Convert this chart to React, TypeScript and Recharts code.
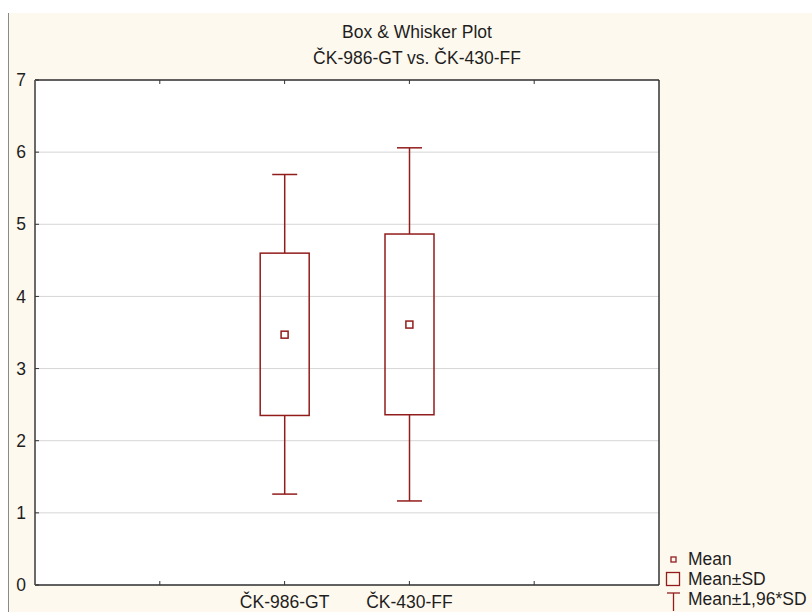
import {
  Bar,
  CartesianGrid,
  ComposedChart,
  Scatter,
  XAxis,
  YAxis,
} from "recharts";

const categories = ["ČK-986-GT", "ČK-430-FF"];
const positions = [2, 3];
const means = [3.47, 3.61];
const sdLow = [2.35, 2.36];
const sdHigh = [4.6, 4.865];
const ciLow = [1.26, 1.165];
const ciHigh = [5.69, 6.06];

const xTicks = [1, 2, 3, 4];
const yTicks = [0, 1, 2, 3, 4, 5, 6, 7];
const legendItems = ["Mean", "Mean±SD", "Mean±1,96*SD"];

const RED = "#921c1c";
const FONT = '"Liberation Sans", Arial, sans-serif';
const TICK = { fill: "#1e1e1e", fontSize: 17.5, fontFamily: FONT };

const data = categories.map((name, i) => ({
  name,
  pos: positions[i],
  mean: means[i],
  base: ciLow[i],
  lowWhisker: sdLow[i] - ciLow[i],
  box: sdHigh[i] - sdLow[i],
  highWhisker: ciHigh[i] - sdHigh[i],
}));

const CAP = 25;

function LowWhisker(p: any) {
  const cx = p.x + p.width / 2;
  const bottom = p.y + p.height;
  return (
    <g stroke={RED} strokeWidth={1.5}>
      <line x1={cx} y1={p.y} x2={cx} y2={bottom} />
      <line x1={cx - CAP / 2} y1={bottom} x2={cx + CAP / 2} y2={bottom} />
    </g>
  );
}

function HighWhisker(p: any) {
  const cx = p.x + p.width / 2;
  return (
    <g stroke={RED} strokeWidth={1.5}>
      <line x1={cx} y1={p.y} x2={cx} y2={p.y + p.height} />
      <line x1={cx - CAP / 2} y1={p.y} x2={cx + CAP / 2} y2={p.y} />
    </g>
  );
}

function BoxShape(p: any) {
  return (
    <rect
      x={p.x}
      y={p.y}
      width={p.width}
      height={p.height}
      fill="none"
      stroke={RED}
      strokeWidth={1.5}
    />
  );
}

function MeanMark(p: any) {
  return (
    <rect
      x={p.cx - 3.5}
      y={p.cy - 3.5}
      width={7}
      height={7}
      fill="#fff"
      stroke={RED}
      strokeWidth={1.5}
    />
  );
}

function LegendBox() {
  const icons = [
    <rect x={6} y={6} width={5} height={5} fill="none" stroke={RED} strokeWidth={1.3} />,
    <rect x={1.5} y={1.5} width={13} height={13} fill="none" stroke={RED} strokeWidth={1.3} />,
    <g stroke={RED} strokeWidth={1.3}>
      <line x1={2} y1={2} x2={15} y2={2} />
      <line x1={8.5} y1={2} x2={8.5} y2={20} />
    </g>,
  ];
  return (
    <div
      style={{
        position: "absolute",
        left: 665,
        top: 549,
        fontFamily: FONT,
        fontSize: 17.5,
        color: "#1e1e1e",
        whiteSpace: "nowrap",
      }}
    >
      {legendItems.map((label, i) => (
        <div
          key={label}
          style={{ display: "flex", alignItems: "center", height: 20 }}
        >
          <svg width={17} height={17} style={{ overflow: "visible", marginRight: 6 }}>
            {icons[i]}
          </svg>
          <span>{label}</span>
        </div>
      ))}
    </div>
  );
}

export default function App() {
  return (
    <div
      style={{
        position: "absolute",
        left: 0,
        top: 0,
        width: 812,
        height: 612,
        background: "#fff",
        overflow: "hidden",
      }}
    >
      <div
        style={{
          position: "absolute",
          left: 8,
          top: 13,
          right: 0,
          bottom: 0,
          background: "#fef9ee",
          borderLeft: "1px solid #8a8a8a",
        }}
      />
      <div
        style={{
          position: "absolute",
          left: 0,
          width: 834,
          top: 19,
          textAlign: "center",
          fontFamily: FONT,
          fontSize: 17.5,
          lineHeight: "26px",
          color: "#1e1e1e",
        }}
      >
        <div>Box &amp; Whisker Plot</div>
        <div>ČK-986-GT vs. ČK-430-FF</div>
      </div>
      <div style={{ position: "absolute", left: 0, top: 0 }}>
        <ComposedChart
          width={812}
          height={612}
          data={data}
          margin={{ top: 79, right: 152, bottom: 0, left: 0 }}
        >
          <CartesianGrid
            vertical={false}
            stroke="#d6d6d6"
            fill="#fff"
            fillOpacity={1}
          />
          <XAxis
            dataKey="pos"
            type="number"
            domain={[0, 5]}
            ticks={xTicks}
            height={27}
            tickSize={-4}
            tickMargin={15}
            tick={TICK}
            tickFormatter={(v) => {
              const i = positions.indexOf(v);
              return i >= 0 ? categories[i] : "";
            }}
            axisLine={{ stroke: "#333", strokeWidth: 1.5 }}
            tickLine={{ stroke: "#333" }}
          />
          <XAxis
            xAxisId="top"
            orientation="top"
            dataKey="pos"
            type="number"
            domain={[0, 5]}
            ticks={xTicks}
            height={1}
            tickSize={-4}
            tickFormatter={() => ""}
            axisLine={{ stroke: "#333", strokeWidth: 1.5 }}
            tickLine={{ stroke: "#333" }}
          />
          <YAxis
            type="number"
            domain={[0, 7]}
            ticks={yTicks}
            width={35}
            tickSize={-4}
            tickMargin={13}
            tick={TICK}
            axisLine={{ stroke: "#6a6a6a", strokeWidth: 2 }}
            tickLine={{ stroke: "#333" }}
          />
          <YAxis
            yAxisId="right"
            orientation="right"
            type="number"
            domain={[0, 7]}
            ticks={yTicks}
            width={1}
            tickSize={-4}
            tickFormatter={() => ""}
            axisLine={{ stroke: "#333", strokeWidth: 1.5 }}
            tickLine={{ stroke: "#333" }}
          />
          <Bar
            dataKey="base"
            stackId="a"
            barSize={49}
            shape={() => <g />}
            isAnimationActive={false}
          />
          <Bar
            dataKey="lowWhisker"
            stackId="a"
            barSize={49}
            shape={LowWhisker}
            isAnimationActive={false}
          />
          <Bar
            dataKey="box"
            stackId="a"
            barSize={49}
            shape={BoxShape}
            isAnimationActive={false}
          />
          <Bar
            dataKey="highWhisker"
            stackId="a"
            barSize={49}
            shape={HighWhisker}
            isAnimationActive={false}
          />
          <Scatter dataKey="mean" shape={MeanMark} isAnimationActive={false} />
        </ComposedChart>
      </div>
      <LegendBox />
    </div>
  );
}
